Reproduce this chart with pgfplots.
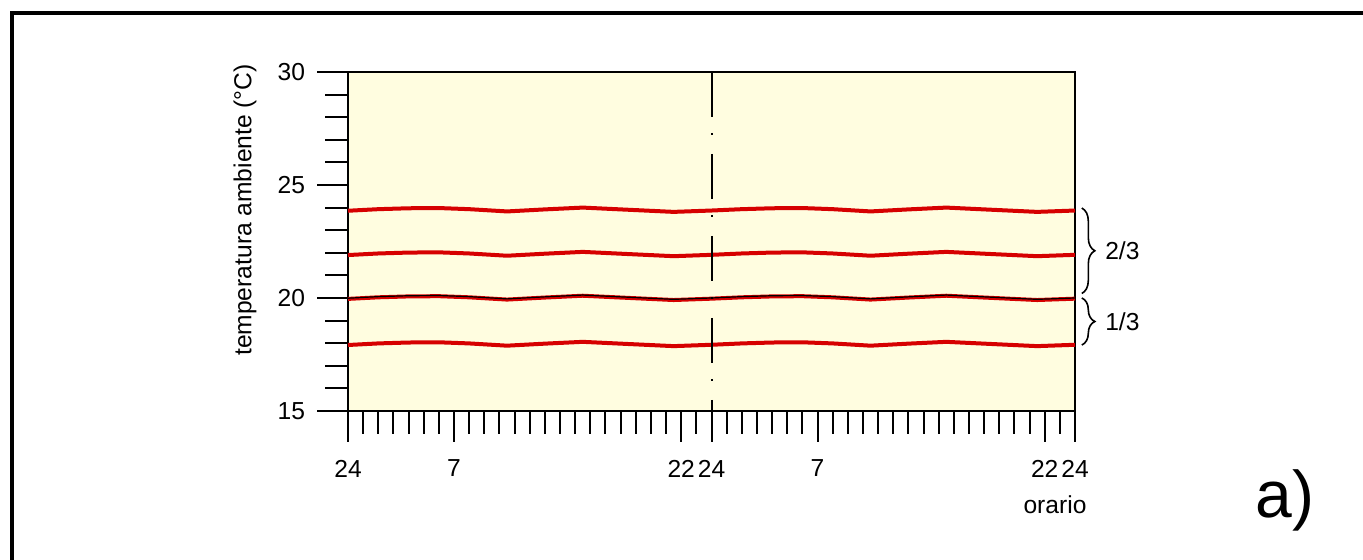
\documentclass[border=0pt]{standalone}
\usepackage{fontspec}
\setmainfont{Liberation Sans}
\usepackage{pgfplots}
\pgfplotsset{compat=1.18}
\usepackage{pgfplotstable}
\usetikzlibrary{decorations.pathreplacing}
\definecolor{bgy}{RGB}{255,253,224}
\definecolor{rline}{RGB}{214,0,0}

\pgfplotstableread{
h    a     b     c     e     d
0    23.86 21.90 19.96 19.99 17.92
2    23.93 21.97 20.03 20.06 17.99
4    23.97 22.01 20.07 20.10 18.03
6    23.98 22.02 20.08 20.11 18.04
8    23.93 21.97 20.03 20.06 17.99
10.5 23.83 21.87 19.93 19.96 17.89
13   23.92 21.96 20.02 20.05 17.98
15.5 24.00 22.04 20.10 20.13 18.06
18   23.92 21.96 20.02 20.05 17.98
21.5 23.81 21.85 19.91 19.94 17.87
24   23.87 21.91 19.97 20.00 17.93
26   23.93 21.97 20.03 20.06 17.99
28   23.97 22.01 20.07 20.10 18.03
30   23.98 22.02 20.08 20.11 18.04
32   23.93 21.97 20.03 20.06 17.99
34.5 23.83 21.87 19.93 19.96 17.89
37   23.92 21.96 20.02 20.05 17.98
39.5 24.00 22.04 20.10 20.13 18.06
42   23.92 21.96 20.02 20.05 17.98
45.5 23.81 21.85 19.91 19.94 17.87
48   23.87 21.91 19.97 20.00 17.93
}\data

\begin{document}
\begin{tikzpicture}
\path[use as bounding box] (0,0) rectangle (681.5pt,280pt);
\draw[line width=2pt] (6pt,-5pt) -- (6pt,273.5pt) -- (690pt,273.5pt);
\begin{axis}[
  at={(174pt,74.5pt)}, anchor=south west,
  scale only axis, width=363.5pt, height=169.5pt,
  xmin=0, xmax=48, ymin=15, ymax=30,
  xtick={0,7,22,24,31,46,48},
  xticklabels={24,7,22,24,7,22,24},
  minor xtick={0,...,48},
  ytick={15,20,25,30},
  minor ytick={15,...,30},
  tick pos=left,
  tick align=outside,
  major tick length=15.5pt,
  minor tick length=11.5pt,
  every tick/.style={black, line width=1pt},
  axis line style={line width=1pt},
  axis background/.style={fill=bgy},
  tick label style={font=\fontsize{12.3}{14}\selectfont},
  xticklabel style={yshift=-5.5pt},
  yticklabel style={xshift=-2.5pt},
  /pgf/number format/assume math mode=true,
  clip=false,
  xlabel={orario}, ylabel={temperatura ambiente (°C)},
  label style={font=\fontsize{12.3}{14}\selectfont},
  xlabel style={at={(axis description cs:0.9725,-0.277)}, anchor=center},
  ylabel style={at={(axis description cs:-0.1417,0.593)}, anchor=center},
]
\addplot[rline, line width=2pt] table[x=h, y=a] {\data};
\addplot[rline, line width=2pt] table[x=h, y=b] {\data};
\addplot[rline, line width=2pt] table[x=h, y=c] {\data};
\addplot[black, line width=0.6pt] table[x=h, y=e] {\data};
\addplot[rline, line width=2pt] table[x=h, y=d] {\data};
\draw[black, line width=1pt, dash pattern=on 22.5pt off 8pt on 1pt off 9.5pt] (axis cs:24,30) -- (axis cs:24,15);
\draw[decorate, decoration={brace, amplitude=6.5pt}, line width=0.8pt] (axis cs:48.45,23.98) -- (axis cs:48.45,20.2) node[midway, right=8pt, font=\fontsize{12.3}{14}\selectfont] {2/3};
\draw[decorate, decoration={brace, amplitude=6.5pt}, line width=0.8pt] (axis cs:48.45,20.0) -- (axis cs:48.45,17.92) node[midway, right=8pt, font=\fontsize{12.3}{14}\selectfont] {1/3};
\end{axis}
\node[font=\fontsize{33}{36}\selectfont] at (642.5pt,30pt) {a)};
\end{tikzpicture}
\end{document}
